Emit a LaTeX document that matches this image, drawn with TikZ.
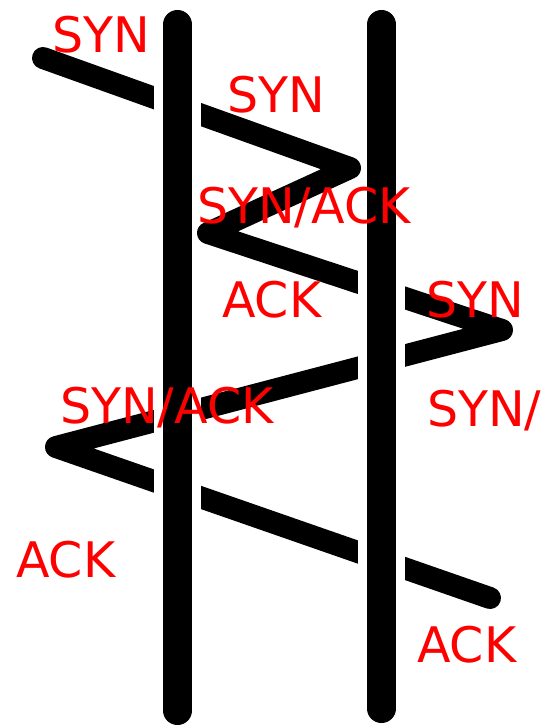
\documentclass[tikz,border=0pt]{standalone}
\usepackage{fontspec}
\setmainfont{DejaVu Sans}
\usetikzlibrary{intersections}
\begin{document}
\begin{tikzpicture}[x=1pt,y=-1pt,
  wire/.style={line width=22pt, line cap=round, line join=round},
  pole/.style={line width=29pt, line cap=round},
  gapband/.style={white, line width=47pt},
  lbl/.style={text=red, inner sep=0pt, anchor=base west, font=\fontsize{49}{58}\selectfont}]
\useasboundingbox (0,0) rectangle (540,727);
\clip (0,0) rectangle (540,727);
\coordinate (v0) at (43,58);
\coordinate (v1) at (350,168);
\coordinate (v2) at (208,233);
\coordinate (v3) at (502,330);
\coordinate (v4) at (56,447);
\coordinate (v5) at (490,598);
\coordinate (lt) at (177.5,24.5);
\coordinate (lb) at (177.5,710.5);
\coordinate (rt) at (381.5,24.5);
\coordinate (rb) at (381.5,708.5);
\draw[wire, name path=zz] (v0) -- (v1) -- (v2) -- (v3) -- (v4) -- (v5);
\path[name path=L] (lt) -- (lb);
\path[name path=R] (rt) -- (rb);
\path[name intersections={of=zz and L, name=li}];
\path[name intersections={of=zz and R, name=ri}];
\foreach \k in {1,2,3} {
  \draw[gapband] ([yshift=28pt]li-\k) -- ([yshift=-28pt]li-\k);
  \draw[gapband] ([yshift=28pt]ri-\k) -- ([yshift=-28pt]ri-\k);
}
\draw[pole] (lt) -- (lb);
\draw[pole] (rt) -- (rb);
\node[lbl] (t1) at (52,53) {SYN};
\node[lbl] (t2) at (227,113) {SYN};
\node[lbl] (t3) at (197,223) {SYN/ACK};
\node[lbl] (t4) at (222,317) {ACK};
\node[lbl] (t5) at (426,317) {SYN};
\node[lbl] (t6) at (60,423) {SYN/ACK};
\node[lbl] (t7) at (427,426) {SYN/ACK};
\node[lbl] (t8) at (16,577) {ACK};
\node[lbl] (t9) at (417,662) {ACK};
\end{tikzpicture}
\end{document}
